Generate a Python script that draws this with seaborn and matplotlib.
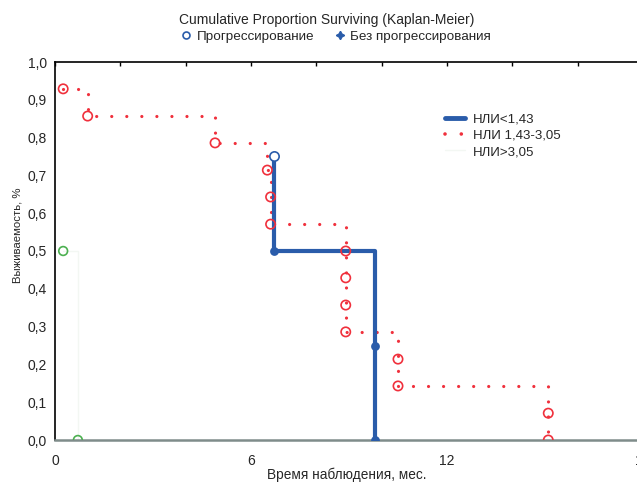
import numpy as np
import pandas as pd
import matplotlib
matplotlib.use('Agg')
import matplotlib.pyplot as plt
from matplotlib.lines import Line2D
import seaborn as sns

# step vertices (time, survival) for each group
red_t = [0.25, 1.0, 4.9, 6.5, 6.6, 6.6, 8.9, 8.9, 8.9, 8.9, 10.5, 10.5, 15.1, 15.1]
red_s = [0.929, 0.857, 0.786, 0.714, 0.643, 0.571, 0.5, 0.429, 0.357, 0.286, 0.214, 0.143, 0.071, 0.0]
blue_t = [6.7, 6.7, 9.8, 9.8]
blue_s = [0.75, 0.5, 0.25, 0.0]
blue_event = [True, False, False, False]
green_t = [0.25, 0.7]
green_s = [0.5, 0.0]

groups = ['НЛИ<1,43', 'НЛИ 1,43-3,05', 'НЛИ>3,05']
xticks = [0, 6, 12, 18]
top_ticks = [0, 2, 4, 6, 8, 10, 12, 14, 16, 18]
yticks = [0.0, 0.1, 0.2, 0.3, 0.4, 0.5, 0.6, 0.7, 0.8, 0.9, 1.0]

blue = '#2a5caa'
red = '#f0303c'
green = '#4cb050'
dots = (0, (0.01, 4.7))

sns.set_style('white')
plt.rcParams['font.family'] = ['Liberation Sans', 'DejaVu Sans']

red_df = pd.DataFrame({'t': red_t, 's': red_s})
blue_df = pd.DataFrame({'t': blue_t, 's': blue_s, 'ev': blue_event})
green_df = pd.DataFrame({'t': green_t, 's': green_s})

fig = plt.figure(figsize=(6.37, 4.86), dpi=100)
ax = fig.add_axes([55/637, 46/486, 588/637, 378/486])

# green line is almost white in the original
sns.lineplot(data=green_df, x='t', y='s', ax=ax, estimator=None, sort=False,
             drawstyle='steps-post', color='#f3f7f3', lw=1)
sns.lineplot(data=red_df, x='t', y='s', ax=ax, estimator=None, sort=False,
             drawstyle='steps-post', color=red, lw=2.3, ls=dots,
             dash_capstyle='round')
sns.lineplot(data=blue_df, x='t', y='s', ax=ax, estimator=None, sort=False,
             drawstyle='steps-post', color=blue, lw=3.0)

sns.scatterplot(data=red_df, x='t', y='s', ax=ax, marker='o', s=45,
                facecolor='none', edgecolor=red, linewidth=1.2, zorder=5)
sns.scatterplot(data=green_df, x='t', y='s', ax=ax, marker='o', s=40,
                facecolor='none', edgecolor=green, linewidth=1.2, zorder=5)
ev = blue_df[blue_df['ev']]
nev = blue_df[~blue_df['ev']]
sns.scatterplot(data=ev, x='t', y='s', ax=ax, marker='o', s=45,
                facecolor='white', edgecolor=blue, linewidth=1.2, zorder=6)
sns.scatterplot(data=nev, x='t', y='s', ax=ax, marker='o', s=40,
                color=blue, edgecolor=blue, linewidth=0, zorder=6)

ax.set_xlim(0, 18)
ax.set_ylim(0, 1.0)
ax.set_xticks(xticks)
ax.set_xticklabels([str(v) for v in xticks], fontsize=10)
ax.set_yticks(yticks)
ax.set_yticklabels([('%.1f' % v).replace('.', ',') for v in yticks], fontsize=10)
ax.tick_params(direction='in', length=3, width=1, color='black', pad=6)
ax.tick_params(axis='x', pad=10)

# small inward ticks along the top frame
sec = ax.secondary_xaxis('top')
sec.set_xticks(top_ticks)
sec.set_xticklabels([])
sec.tick_params(direction='in', length=3, width=1, color='black')
sec.spines['top'].set_visible(False)

ax.set_xlabel('Время наблюдения, мес.', fontsize=9.8)
ax.xaxis.set_label_coords(0.497, -0.074)
ax.set_ylabel('Выживаемость, %', fontsize=8.2)
ax.yaxis.set_label_coords(-0.056, 0.542)

for side in ['left', 'top']:
    ax.spines[side].set_color('black')
    ax.spines[side].set_linewidth(1.2)
ax.spines['right'].set_visible(False)
ax.spines['bottom'].set_color('#7f8c8a')
ax.spines['bottom'].set_linewidth(1.8)

handles = [
    Line2D([], [], color=blue, lw=3.5),
    Line2D([], [], color=red, lw=2.6, ls=(0, (0.01, 4.5)), dash_capstyle='round'),
    Line2D([], [], color='#f3f7f3', lw=1),
]
ax.legend(handles, groups, loc='upper left', bbox_to_anchor=(0.655, 0.878),
          borderaxespad=0, frameon=False, fontsize=9.5, handlelength=1.5,
          handletextpad=0.6, labelspacing=0.3)

fig.text(0.513, 0.959, 'Cumulative Proportion Surviving (Kaplan-Meier)',
         ha='center', va='center', fontsize=10)
top_handles = [
    Line2D([], [], ls='none', marker='o', ms=5, mfc='none', mec=blue, mew=1.2),
    Line2D([], [], ls='none', marker=(4, 1, 0), ms=6, color=blue),
]
fig.legend(top_handles, ['Прогрессирование', 'Без прогрессирования'],
           loc='center', bbox_to_anchor=(0.526, 0.924), ncol=2, frameon=False,
           fontsize=9.7, handlelength=1.0, handletextpad=0.3, columnspacing=1.4)

fig.savefig('out.png', dpi=100)
